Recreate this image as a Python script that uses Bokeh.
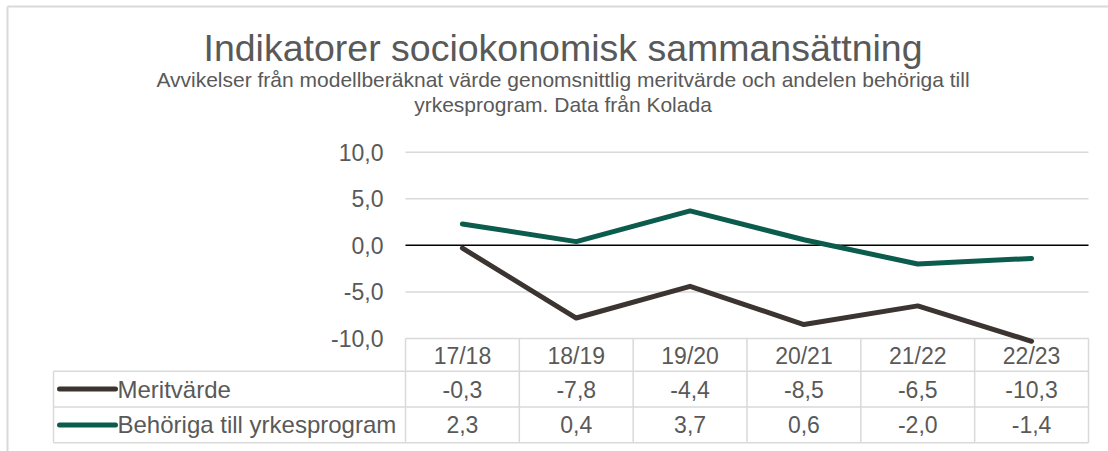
from bokeh.plotting import figure
from bokeh.models import Range1d, FixedTicker, CustomJSTickFormatter, Label
from bokeh.core.properties import value
from bokeh.embed import file_html
from bokeh.resources import INLINE

# ---------------- data ----------------
title_text = "Indikatorer sociokonomisk sammansättning"
subtitle_lines = [
    "Avvikelser från modellberäknat värde genomsnittlig meritvärde och andelen behöriga till",
    "yrkesprogram. Data från Kolada",
]
categories = ["17/18", "18/19", "19/20", "20/21", "21/22", "22/23"]
meritvarde = [-0.3, -7.8, -4.4, -8.5, -6.5, -10.3]
behoriga = [2.3, 0.4, 3.7, 0.6, -2.0, -1.4]
series_names = ["Meritvärde", "Behöriga till yrkesprogram"]
y_ticks = [-10, -5, 0, 5, 10]

# ---------------- styles / layout ----------------
FONT = "Liberation Sans"
TEXT_COLOR = "#595959"
GRID_COLOR = "#d9d9d9"
COLORS = ["#3b3431", "#0b5c4c"]

W, H = 1108, 451
FRAME_L, FRAME_R = 405.0, 1088.0     # pixel x of first / last column edge
Y_TOP_PX, Y_BOT_PX = 151.7, 338.0    # pixel y of top / bottom tick
ROW_EDGES_PX = [338.0, 370.7, 406.5, 442.3]  # table: header, row1, row2 bottoms
LEGEND_L_PX = 53.0

ncat = len(categories)
ppx = (FRAME_R - FRAME_L) / ncat
x_start = -0.5 - FRAME_L / ppx
x_end = x_start + W / ppx
ymax, ymin = max(y_ticks), min(y_ticks)
ppy = (Y_BOT_PX - Y_TOP_PX) / (ymax - ymin)
y_top = ymax + Y_TOP_PX / ppy
y_bot = y_top - H / ppy


def dx(px):
    return x_start + px / ppx


def dy(py):
    return y_top - py / ppy


p = figure(width=W, height=H, output_backend="svg", toolbar_location=None,
           x_range=Range1d(x_start, x_end), y_range=Range1d(y_bot, y_top),
           min_border=0, min_border_left=0, min_border_right=0,
           min_border_top=0, min_border_bottom=0, title_location=None)
p.outline_line_color = None
p.background_fill_color = "white"
p.border_fill_color = "white"
p.xgrid.visible = False
p.ygrid.visible = False

# y axis (inside frame at the left edge of the plot area)
p.yaxis.fixed_location = -0.5
p.yaxis.ticker = FixedTicker(ticks=y_ticks)
p.yaxis.formatter = CustomJSTickFormatter(code="return tick.toFixed(1).replace('.', ',')")
p.yaxis.axis_line_color = None
p.yaxis.major_tick_line_color = None
p.yaxis.minor_tick_line_color = None
p.yaxis.major_tick_out = 0
p.yaxis.major_tick_in = 0
p.yaxis.major_label_standoff = 22
p.yaxis.major_label_text_font = FONT
p.yaxis.major_label_text_font_size = "23px"
p.yaxis.major_label_text_color = TEXT_COLOR

# x axis: category header of the data table
p.xaxis.fixed_location = ymin
p.xaxis.ticker = FixedTicker(ticks=list(range(ncat)))
p.xaxis.formatter = CustomJSTickFormatter(args=dict(cats=categories),
                                          code="return cats[Math.round(tick)] || ''")
p.xaxis.axis_line_color = None
p.xaxis.major_tick_line_color = None
p.xaxis.minor_tick_line_color = None
p.xaxis.major_tick_out = 0
p.xaxis.major_tick_in = 0
p.xaxis.major_label_standoff = 4
p.xaxis.major_label_text_font = FONT
p.xaxis.major_label_text_font_size = "23px"
p.xaxis.major_label_text_color = TEXT_COLOR

# gridlines
for t in y_ticks:
    if t != 0:
        p.segment(x0=-0.5, x1=ncat - 0.5, y0=t, y1=t, line_color=GRID_COLOR, line_width=1.5)
p.segment(x0=-0.5, x1=ncat - 0.5, y0=0, y1=0, line_color="black", line_width=1.5)

# series
xs = list(range(ncat))
for vals, col in zip([meritvarde, behoriga], COLORS):
    p.line(x=xs, y=vals, line_color=col, line_width=5, line_cap="round", line_join="round")

# data table lines
tb = dy(ROW_EDGES_PX[-1])
for i in range(ncat + 1):
    p.segment(x0=i - 0.5, x1=i - 0.5, y0=ymin, y1=tb, line_color=GRID_COLOR, line_width=1.5)
p.segment(x0=dx(LEGEND_L_PX), x1=dx(LEGEND_L_PX), y0=dy(ROW_EDGES_PX[1]), y1=tb,
          line_color=GRID_COLOR, line_width=1.5)
for r in ROW_EDGES_PX[1:]:
    p.segment(x0=dx(LEGEND_L_PX), x1=ncat - 0.5, y0=dy(r), y1=dy(r),
              line_color=GRID_COLOR, line_width=1.5)

# table rows: legend key, name and values
for k, (name, vals, col) in enumerate(zip(series_names, [meritvarde, behoriga], COLORS)):
    yc = dy((ROW_EDGES_PX[k + 1] + ROW_EDGES_PX[k + 2]) / 2)
    p.segment(x0=dx(LEGEND_L_PX + 6), x1=dx(LEGEND_L_PX + 62), y0=yc, y1=yc,
              line_color=col, line_width=5, line_cap="round")
    p.text(x=[dx(LEGEND_L_PX + 64)], y=[yc], text=[name], text_align="left",
           text_baseline="middle", text_font=value(FONT), text_font_size=value("24px"),
           text_color=TEXT_COLOR)
    p.text(x=xs, y=[yc] * ncat, text=[f"{v:.1f}".replace(".", ",") for v in vals],
           text_align="center", text_baseline="middle", text_font=value(FONT),
           text_font_size=value("23px"), text_color=TEXT_COLOR)

# chart border (top / left visible)
p.segment(x0=dx(7), x1=dx(W), y0=dy(6), y1=dy(6), line_color=GRID_COLOR, line_width=2)
p.segment(x0=dx(7), x1=dx(7), y0=dy(6), y1=dy(H), line_color=GRID_COLOR, line_width=2)

# titles
TITLE_CX = 562.5
p.add_layout(Label(x=TITLE_CX, y=H - 47, x_units="screen", y_units="screen", text=title_text,
                   text_align="center", text_baseline="alphabetic", text_font=FONT,
                   text_font_size="37.5px", text_color=TEXT_COLOR))
for line, base in zip(subtitle_lines, [79.0, 103.5]):
    p.add_layout(Label(x=TITLE_CX, y=H - base, x_units="screen", y_units="screen", text=line,
                       text_align="center", text_baseline="alphabetic", text_font=FONT,
                       text_font_size="21px", text_color=TEXT_COLOR))

open("out.html", "w").write(file_html(p, INLINE))
